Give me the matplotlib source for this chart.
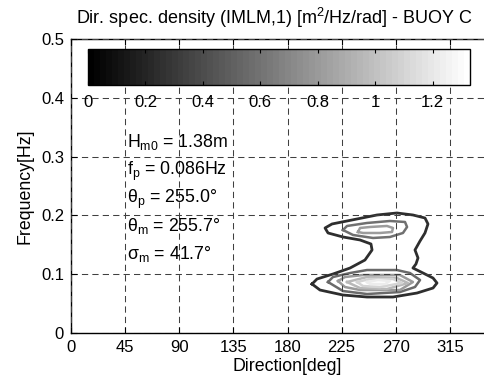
import numpy as np
import matplotlib
matplotlib.use("Agg")
import matplotlib.pyplot as plt
from matplotlib.cm import ScalarMappable
from matplotlib.colors import Normalize

plt.rcParams['font.family'] = ['Liberation Sans', 'DejaVu Sans']
plt.rcParams['mathtext.fontset'] = 'custom'
plt.rcParams['mathtext.rm'] = 'Liberation Sans'
plt.rcParams['mathtext.it'] = 'Liberation Sans:italic'
plt.rcParams['font.size'] = 12

# %% Data (direction [deg], frequency [Hz])
x_ticks = [0, 45, 90, 135, 180, 225, 270, 315]
y_ticks = [0, 0.1, 0.2, 0.3, 0.4, 0.5]
cbar_ticks = [0, 0.2, 0.4, 0.6, 0.8, 1, 1.2]
cbar_max = 1.33

# outer contour (both lobes joined)
c1_dir = [200.4, 204.5, 217.8, 232.0, 244.4, 250.3, 249.4, 240.3, 226.1, 213.7, 211.2,
          217.0, 237.8, 254.4, 271.0, 284.3, 294.3, 296.8, 294.3, 290.2, 286.0, 288.5,
          286.8, 284.3, 292.7, 301.0, 304.3, 301.0, 287.7, 267.7, 246.1, 226.1, 207.0]
c1_freq = [0.0833, 0.0918, 0.1003, 0.1105, 0.1241, 0.1412, 0.1514, 0.1582, 0.1633, 0.1701,
           0.1786, 0.1854, 0.1939, 0.2007, 0.2041, 0.2007, 0.1956, 0.1854, 0.1701, 0.1565,
           0.1412, 0.1276, 0.1173, 0.1105, 0.1020, 0.0935, 0.0850, 0.0765, 0.0680, 0.0612,
           0.0612, 0.0646, 0.0731]

# upper lobe
c2u_dir = [226.1, 229.5, 246.1, 265.2, 277.7, 279.4, 276.0, 265.2, 251.1, 234.5]
c2u_freq = [0.1752, 0.1820, 0.1871, 0.1905, 0.1888, 0.1803, 0.1701, 0.1633, 0.1616, 0.1667]
c3u_dir = [238.6, 240.3, 248.6, 262.7, 267.7, 266.9, 256.9, 242.8]
c3u_freq = [0.1718, 0.1786, 0.1803, 0.1820, 0.1786, 0.1718, 0.1701, 0.1701]

# lower lobe
c2l_dir = [213.7, 217.8, 232.0, 246.1, 271.0, 281.8, 290.2, 286.0, 273.5, 246.1, 226.1]
c2l_freq = [0.0867, 0.0952, 0.1020, 0.1071, 0.1071, 0.1020, 0.0901, 0.0782, 0.0697, 0.0663, 0.0714]
c3l_dir = [222.0, 227.8, 242.8, 273.5, 284.3, 273.5, 240.3, 227.8]
c3l_freq = [0.0884, 0.0952, 0.0986, 0.0986, 0.0867, 0.0731, 0.0731, 0.0782]
c4l_dir = [229.5, 246.1, 271.0, 280.2, 262.7, 240.3]
c4l_freq = [0.0867, 0.0952, 0.0935, 0.0850, 0.0748, 0.0765]
c5l_dir = [237.8, 248.6, 267.7, 275.2, 256.9, 242.8]
c5l_freq = [0.0867, 0.0918, 0.0918, 0.0850, 0.0782, 0.0799]
c6l_dir = [246.1, 255.2, 265.2, 261.1, 248.6]
c6l_freq = [0.0867, 0.0901, 0.0884, 0.0833, 0.0833]

contours = [
    (c1_dir, c1_freq, '#2e2e2e', 2.0),
    (c2u_dir, c2u_freq, '#707070', 1.8),
    (c3u_dir, c3u_freq, '#9c9c9c', 1.8),
    (c2l_dir, c2l_freq, '#6a6a6a', 1.8),
    (c3l_dir, c3l_freq, '#9a9a9a', 1.8),
    (c4l_dir, c4l_freq, '#b8b8b8', 1.8),
    (c5l_dir, c5l_freq, '#d4d4d4', 1.8),
    (c6l_dir, c6l_freq, '#ececec', 1.8),
]

stats = [r'H$_{\rm m0}$ = 1.38m',
         r'f$_{\rm p}$ = 0.086Hz',
         r'θ$_{\rm p}$ = 255.0°',
         r'θ$_{\rm m}$ = 255.7°',
         r'σ$_{\rm m}$ = 41.7°']
stats_freq = [0.316, 0.269, 0.221, 0.173, 0.126]

# %% Figure
W, H = 485, 390
fig = plt.figure(figsize=(W / 100, H / 100), dpi=100)
ax = fig.add_axes([71 / W, 57 / H, 433 / W, 294 / H])

for d, f, col, lw in contours:
    d = list(d) + [d[0]]
    f = list(f) + [f[0]]
    ax.plot(d, f, color=col, linewidth=lw, solid_joinstyle='round', zorder=2)

ax.set_xlim(0, 360)
ax.set_ylim(0, 0.5)
ax.set_xticks(x_ticks)
ax.set_yticks(y_ticks)
ax.set_yticklabels(['0', '0.1', '0.2', '0.3', '0.4', '0.5'])
ax.tick_params(direction='in', length=4, top=True, right=True, pad=5, labelsize=12)
ax.set_axisbelow(False)
ax.grid(True, color='#404040', linestyle=(0, (6, 4)), linewidth=0.75)
for s in ax.spines.values():
    s.set_linewidth(1.0)

ax.set_xlabel('Direction[deg]', fontsize=12.8, labelpad=2)
ax.set_ylabel('Frequency[Hz]', fontsize=12.8, labelpad=5)
fig.text(274 / W, 1 - 18 / H, r'Dir. spec. density (IMLM,1) [m$^2$/Hz/rad] - BUOY C',
         ha='center', va='center', fontsize=13)

for txt, fr in zip(stats, stats_freq):
    ax.text(46.6, fr, txt, fontsize=12.8, ha='left', va='baseline')

# %% Colorbar inset
cax = fig.add_axes([88 / W, 1 - 85 / H, (470 - 88) / W, 36 / H])
sm = ScalarMappable(norm=Normalize(0, cbar_max), cmap=plt.get_cmap('gray', 64))
cb = fig.colorbar(sm, cax=cax, orientation='horizontal', ticks=cbar_ticks)
cb.ax.set_xticklabels(['0', '0.2', '0.4', '0.6', '0.8', '1', '1.2'])
cb.ax.tick_params(direction='in', length=3, top=True, bottom=True, pad=7, labelsize=12)
cb.outline.set_linewidth(1.0)

fig.savefig('out.png', dpi=100)
